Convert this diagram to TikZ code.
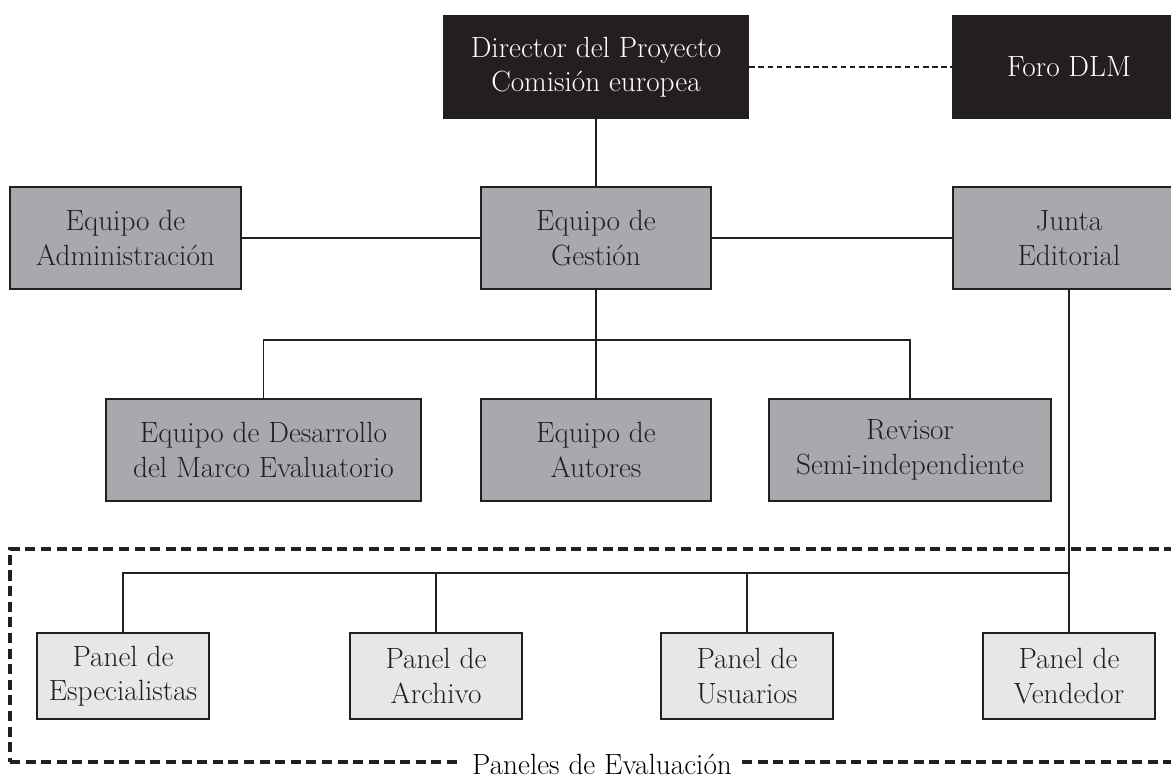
\documentclass[tikz,border=0pt]{standalone}
\usepackage{amsmath}
\definecolor{boxdark}{HTML}{231F20}
\definecolor{boxgrey}{HTML}{A7A9AC}
\definecolor{boxlight}{HTML}{E6E7E8}

\begin{document}
\begin{tikzpicture}[x=0.025cm, y=0.025cm,
  every node/.style={font=\fontsize{20.8}{24.5}\selectfont, align=center, inner sep=0pt},
  darkbox/.style={draw=boxdark, fill=boxdark, text=white, line width=1pt, minimum height=2.55cm},
  greybox/.style={draw=boxdark, fill=boxgrey, text=boxdark, line width=1pt, minimum height=2.55cm},
  panelbox/.style={draw=boxdark, fill=boxlight, text=boxdark, line width=1pt, minimum height=2.15cm, minimum width=4.3cm},
  link/.style={draw=boxdark, line width=0.8pt},
  frame/.style={draw=boxdark, line width=2.2pt, dash pattern=on 2.5mm off 1.4mm}]
\useasboundingbox (0,0) rectangle (1171,781);
% top row
\node[darkbox, minimum width=7.625cm] (dir) at (596,714) {Director del Proyecto\\Comisi\'on europea};
\node[darkbox, minimum width=5.8cm] (foro) at (1069,714) {Foro DLM};
% second row
\node[greybox, minimum width=5.775cm] (admin) at (125.5,543) {Equipo de\\Administraci\'on};
\node[greybox, minimum width=5.75cm] (gest) at (596,543) {Equipo de\\Gesti\'on};
\node[greybox, minimum width=5.8cm] (junta) at (1069,543) {Junta\\Editorial};
% third row
\node[greybox, minimum width=7.875cm] (desa) at (263.5,331) {Equipo de Desarrollo\\del Marco Evaluatorio};
\node[greybox, minimum width=5.75cm] (auto) at (596,331) {Equipo de\\Autores};
\node[greybox, minimum width=7.05cm] (revi) at (910,331) {Revisor\\Semi-independiente};
% panels
\node[panelbox] (esp) at (123,105) {Panel de\\Especialistas};
\node[panelbox] (arch) at (436,105) {Panel de\\Archivo};
\node[panelbox] (usu) at (747,105) {Panel de\\Usuarios};
\node[panelbox] (vend) at (1069,105) {Panel de\\Vendedor};
\coordinate (gbus) at (596,441);
\coordinate (pbus) at (1069,208);
% links
\draw[link, dash pattern=on 4pt off 2.5pt] (dir.east) -- (foro.west);
\draw[link] (dir) -- (gest);
\draw[link] (admin) -- (gest) -- (junta);
\draw[link] (gest) -- (auto);
\draw[link] (desa.north) |- (gbus) -| (revi.north);
\draw[frame] (1190,232) -- (10,232) -- (10,19);
\node[fill=white, inner xsep=0.25cm, inner ysep=2pt] (eval) at (602,17) {Paneles de Evaluaci\'on};
\draw[frame] (10,19) -- (eval.west |- 0,19);
\draw[frame] (eval.east |- 0,19) -- (1190,19);
\draw[link] (junta) -- (vend);
\draw[link] (esp.north) |- (pbus);
\draw[link] (arch.north) -- (arch.north |- pbus);
\draw[link] (usu.north) -- (usu.north |- pbus);
\end{tikzpicture}
\end{document}
